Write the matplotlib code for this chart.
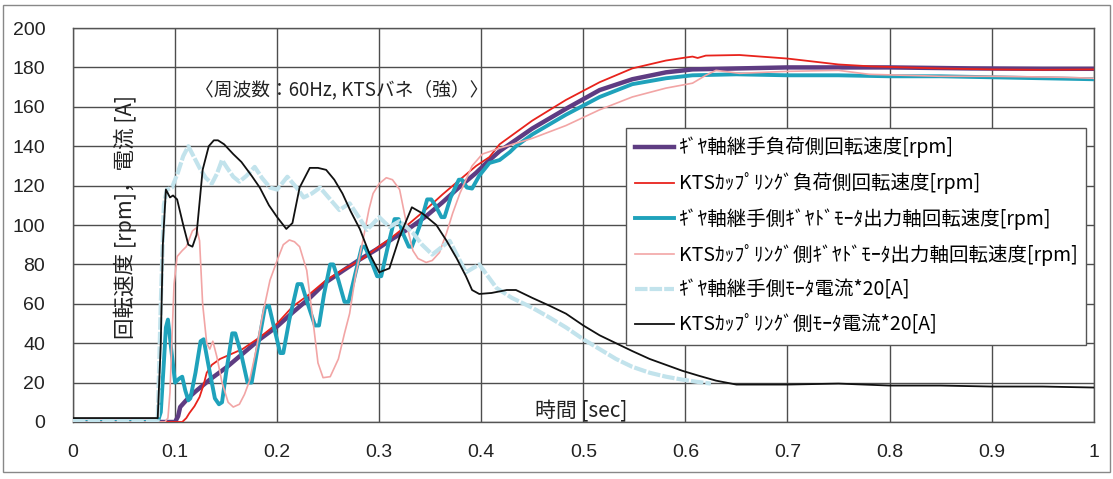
import matplotlib
matplotlib.use("Agg")
import matplotlib.pyplot as plt
from matplotlib.patches import Rectangle

plt.rcParams['font.family'] = ['Noto Sans CJK JP', 'DejaVu Sans']

# ---------------- data ----------------
labels = [
    "ｷﾞﾔ軸継手負荷側回転速度[rpm]",
    "KTSｶｯﾌﾟﾘﾝｸﾞ負荷側回転速度[rpm]",
    "ｷﾞﾔ軸継手側ｷﾞﾔﾄﾞﾓｰﾀ出力軸回転速度[rpm]",
    "KTSｶｯﾌﾟﾘﾝｸﾞ側ｷﾞﾔﾄﾞﾓｰﾀ出力軸回転速度[rpm]",
    "ｷﾞﾔ軸継手側ﾓｰﾀ電流*20[A]",
    "KTSｶｯﾌﾟﾘﾝｸﾞ側ﾓｰﾀ電流*20[A]",
]

gear_load_t = [0, 0.1, 0.103, 0.105, 0.11, 0.114, 0.12, 0.134, 0.151, 0.167, 0.183, 0.2, 0.215,
               0.232, 0.248, 0.265, 0.281, 0.297, 0.313, 0.33, 0.346, 0.362, 0.379, 0.395, 0.405,
               0.418, 0.45, 0.483, 0.516, 0.548, 0.581, 0.607, 0.653, 0.7, 0.75, 0.8, 0.88, 0.95, 1.0]
gear_load_v = [0, 0, 3, 7.6, 10.5, 12.7, 15.5, 21.5, 28, 35, 42, 48.5, 55.5,
               63, 71, 77, 82.5, 87.5, 93, 98.5, 104.5, 111.5, 119.5, 126.5, 131.5,
               137.5, 149, 159, 168.5, 174, 177.5, 179, 179.5, 180, 180, 180, 179.5, 179.3, 179.3]

kts_load_t = [0, 0.107, 0.111, 0.114, 0.119, 0.124, 0.128, 0.131, 0.136, 0.144, 0.155, 0.166, 0.183,
              0.2, 0.215, 0.232, 0.248, 0.265, 0.281, 0.297, 0.313, 0.33, 0.346, 0.362, 0.379,
              0.395, 0.408, 0.418, 0.45, 0.483, 0.516, 0.548, 0.581, 0.6, 0.607, 0.612, 0.62,
              0.653, 0.7, 0.75, 0.783, 0.848, 0.9, 0.95, 1.0]
kts_load_v = [0, 0, 2, 4.5, 8, 12.7, 19, 25, 29, 32, 34.5, 37, 43,
              50, 58.5, 65, 72, 77.5, 82, 88, 94, 101, 108, 115.5, 123,
              130, 134.5, 141, 153, 163.5, 172.5, 179.5, 183.5, 185, 185.5, 184.8, 186,
              186.3, 184.5, 181.5, 180.5, 179.5, 179, 178.8, 179]

gear_motor_t = [0, 0.083, 0.086, 0.089, 0.091, 0.093, 0.096, 0.1, 0.104, 0.107, 0.110, 0.113, 0.115,
                0.12, 0.125, 0.128, 0.133, 0.139, 0.143, 0.146, 0.15, 0.156, 0.159, 0.165, 0.171,
                0.175, 0.181, 0.188, 0.192, 0.197, 0.203, 0.206, 0.212, 0.22, 0.224, 0.23, 0.237,
                0.241, 0.246, 0.252, 0.255, 0.26, 0.266, 0.27, 0.276, 0.283, 0.286, 0.292, 0.298,
                0.302, 0.308, 0.315, 0.319, 0.323, 0.329, 0.332, 0.34, 0.347, 0.351, 0.355, 0.361,
                0.364, 0.37, 0.378, 0.381, 0.386, 0.391, 0.398, 0.408, 0.418, 0.428, 0.434, 0.45,
                0.483, 0.516, 0.548, 0.581, 0.607, 0.65, 0.7, 0.75, 0.8, 0.85, 0.9, 0.95, 1.0]
gear_motor_v = [0, 0, 5, 30, 48, 52, 38, 20, 22, 23, 16, 11, 12,
                25, 41, 42, 28, 12, 9, 10, 25, 45, 45, 34, 20,
                20, 38, 58, 59, 48, 35, 35, 52, 70, 70, 60, 49,
                49, 65, 80, 80, 72, 61, 61, 74, 89, 89, 82, 74,
                74, 88, 103, 103, 96, 89, 89, 100, 113, 113, 110, 104,
                104, 114, 123, 123, 119, 118.5, 125, 131.5, 133, 137, 140, 146,
                156, 165, 171.5, 174.5, 176, 176.5, 176, 176, 175.5, 175.5, 175, 174.5, 174]

kts_motor_t = [0, 0.09, 0.093, 0.095, 0.097, 0.099, 0.102, 0.107, 0.111, 0.117, 0.121, 0.124, 0.127,
               0.131, 0.134, 0.137, 0.141, 0.146, 0.152, 0.157, 0.163, 0.168, 0.173, 0.18, 0.186,
               0.193, 0.2, 0.206, 0.212, 0.217, 0.222, 0.229, 0.235, 0.24, 0.245, 0.252, 0.26,
               0.266, 0.271, 0.277, 0.284, 0.29, 0.294, 0.3, 0.307, 0.313, 0.32, 0.327, 0.333,
               0.338, 0.346, 0.352, 0.359, 0.366, 0.372, 0.379, 0.385, 0.391, 0.401, 0.418, 0.45,
               0.483, 0.516, 0.548, 0.581, 0.607, 0.62, 0.63, 0.653, 0.7, 0.75, 0.78, 0.85, 0.9,
               0.97, 1.0]
kts_motor_v = [0, 0, 2, 15, 43, 70, 84, 87, 89, 97, 98.6, 92, 60,
               40, 37, 41, 33, 20, 10, 7.6, 9, 14, 21, 38, 55,
               72, 82, 90, 92.4, 91.5, 89, 77, 52, 30, 22.5, 23, 32,
               45, 55, 75, 92, 108, 116, 121, 124, 123, 118, 100, 87,
               83, 81, 82, 86, 96, 106, 116, 123, 130, 136, 139, 144,
               150.5, 158.5, 165, 169.5, 172, 176, 178.5, 177, 178, 178.5, 176.5, 175.5, 175.5,
               175, 174.5]

gear_cur_t = [0, 0.083, 0.086, 0.089, 0.092, 0.097, 0.103, 0.108, 0.113, 0.118, 0.124, 0.13, 0.136,
              0.141, 0.146, 0.151, 0.157, 0.163, 0.17, 0.178, 0.185, 0.193, 0.2, 0.21, 0.219,
              0.226, 0.234, 0.242, 0.252, 0.261, 0.271, 0.28, 0.288, 0.3, 0.31, 0.32, 0.333,
              0.342, 0.352, 0.369, 0.385, 0.398, 0.415, 0.43, 0.45, 0.467, 0.483, 0.5, 0.516,
              0.532, 0.548, 0.565, 0.581, 0.597, 0.61, 0.625]
gear_cur_v = [1, 1, 60, 110, 118, 119, 127, 135, 140, 135, 129, 124, 121,
              126, 133, 129, 124.5, 122, 125, 129.5, 124, 119, 118, 124.5, 119,
              114, 116, 119, 113, 107.6, 111, 104, 97.5, 104, 99, 102, 96,
              90, 85, 92, 76, 80, 68, 63, 58, 53, 48, 42, 37,
              32, 28, 25, 23, 21.5, 20.5, 19.5]

kts_cur_t = [0, 0.083, 0.086, 0.088, 0.091, 0.095, 0.098, 0.102, 0.108, 0.113, 0.117, 0.121, 0.127,
             0.133, 0.138, 0.142, 0.148, 0.157, 0.165, 0.175, 0.183, 0.192, 0.2, 0.209, 0.215,
             0.222, 0.232, 0.24, 0.248, 0.256, 0.264, 0.272, 0.281, 0.29, 0.3, 0.31, 0.32,
             0.332, 0.342, 0.356, 0.366, 0.376, 0.385, 0.391, 0.398, 0.41, 0.425, 0.434, 0.45,
             0.467, 0.483, 0.5, 0.516, 0.532, 0.548, 0.565, 0.581, 0.597, 0.613, 0.63, 0.65,
             0.67, 0.7, 0.75, 0.8, 0.85, 0.9, 0.95, 1.0]
kts_cur_v = [2, 2, 40, 90, 118, 114, 115, 113, 100, 90, 89, 95, 128,
             140, 143, 143, 141, 136, 132, 125, 119, 110, 104, 98, 101,
             119, 129, 129, 128, 123, 116, 107, 98, 86, 76, 78, 94,
             109, 106, 100, 92, 83, 74, 67, 65, 65.5, 67, 67, 63,
             59, 55, 49, 44, 40, 36, 32, 29, 26, 23.5, 21, 19,
             19, 19, 19.5, 18.5, 18.5, 18, 18, 17.5]

x_ticks = [0, 0.1, 0.2, 0.3, 0.4, 0.5, 0.6, 0.7, 0.8, 0.9, 1]
x_ticklabels = ["0", "0.1", "0.2", "0.3", "0.4", "0.5", "0.6", "0.7", "0.8", "0.9", "1"]
y_ticks = [0, 20, 40, 60, 80, 100, 120, 140, 160, 180, 200]

title_text = "〈周波数：60Hz, KTSバネ（強）〉"
ylabel_text = "回転速度 [rpm]，電流 [A]"
xlabel_text = "時間 [sec]"

# ---------------- figure ----------------
fig = plt.figure(figsize=(11.13, 4.79), dpi=100)
ax = fig.add_axes([0.0656, 0.119, 0.917, 0.8225])

ax.plot(gear_load_t, gear_load_v, color='#5e3c82', lw=3.2, label=labels[0], zorder=3)
ax.plot(kts_load_t, kts_load_v, color='#e8231c', lw=1.3, label=labels[1], zorder=4)
ax.plot(gear_motor_t, gear_motor_v, color='#1fa2bb', lw=2.8, label=labels[2], zorder=5,
        solid_joinstyle='round')
ax.plot(kts_motor_t, kts_motor_v, color='#f2a5a5', lw=1.2, label=labels[3], zorder=6)
ax.plot(gear_cur_t, gear_cur_v, color='#c2e3ec', lw=3.0, ls=(0, (3.0, 0.5)), label=labels[4], zorder=7)
ax.plot(kts_cur_t, kts_cur_v, color='#111111', lw=1.3, label=labels[5], zorder=8)

ax.set_xlim(0, 1)
ax.set_ylim(0, 200)
ax.set_xticks(x_ticks)
ax.set_xticklabels(x_ticklabels)
ax.set_yticks(y_ticks)
ax.grid(True, color='#4d4d4d', lw=1.0)
ax.set_axisbelow(True)
for s in ax.spines.values():
    s.set_color('#555555')
    s.set_linewidth(1.0)
ax.tick_params(axis='both', length=0, labelsize=14)
ax.tick_params(axis='x', pad=16)
ax.tick_params(axis='y', pad=20)
for lab in ax.get_xticklabels() + ax.get_yticklabels():
    lab.set_fontfamily(['Liberation Sans', 'DejaVu Sans'])
    lab.set_color('#222222')

ax.text(0.263, 0.843, title_text, transform=ax.transAxes, fontsize=13.5,
        ha='center', va='center', color='#222222')
ax.text(0.051, 0.52, ylabel_text, transform=ax.transAxes, fontsize=15.5,
        ha='center', va='center', rotation=90, color='#222222')
ax.text(0.498, 0.028, xlabel_text, transform=ax.transAxes, fontsize=15,
        ha='center', va='center', color='#222222')

leg = ax.legend(loc='upper left', bbox_to_anchor=(0.542, 0.746), fontsize=14,
                frameon=True, fancybox=False, edgecolor='#555555', framealpha=1,
                labelspacing=0.72, handlelength=2.0, handletextpad=0.25,
                borderpad=0.45, borderaxespad=0)
leg.get_frame().set_linewidth(1.0)
leg.set_zorder(10)

fig.patches.append(Rectangle((0.003, 0.015), 0.994, 0.975, transform=fig.transFigure,
                             fill=False, edgecolor='#888888', lw=1.0))

fig.savefig('out.png', dpi=100, facecolor='white')
